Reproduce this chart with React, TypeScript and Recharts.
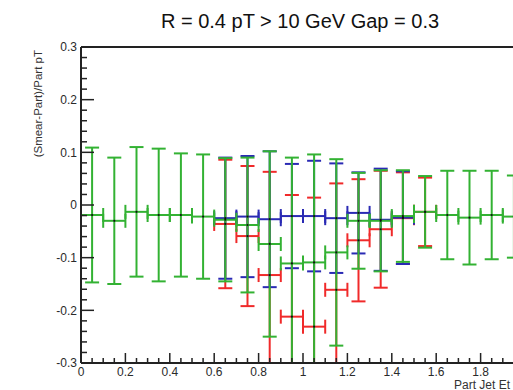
import React from 'react';
import { ScatterChart, Scatter, XAxis, YAxis, ErrorBar, ReferenceLine } from 'recharts';

// ---- data ----
const GREEN_X = [0.05, 0.15, 0.25, 0.35, 0.45, 0.55, 0.65, 0.75, 0.85, 0.95, 1.05, 1.15, 1.25, 1.35, 1.45, 1.55, 1.65, 1.75, 1.85, 1.95];
const GREEN_Y = [-0.019, -0.030, -0.013, -0.019, -0.019, -0.022, -0.028, -0.038, -0.074, -0.111, -0.109, -0.090, -0.030, -0.030, -0.021, -0.013, -0.019, -0.024, -0.019, -0.022];
const GREEN_ERR = [0.128, 0.120, 0.123, 0.126, 0.117, 0.118, 0.117, 0.128, 0.176, 0.201, 0.205, 0.177, 0.091, 0.096, 0.087, 0.068, 0.084, 0.089, 0.084, 0.078];

const BLUE_X = [0.65, 0.75, 0.85, 0.95, 1.05, 1.15, 1.25, 1.35, 1.45];
const BLUE_Y = [-0.025, -0.022, -0.027, -0.021, -0.021, -0.025, -0.015, -0.028, -0.024];
const BLUE_ERR = [0.115, 0.115, 0.129, 0.099, 0.105, 0.104, 0.077, 0.097, 0.088];

const RED_X = [0.65, 0.75, 0.85, 0.95, 1.05, 1.15, 1.25, 1.35, 1.45, 1.55];
const RED_Y = [-0.036, -0.059, -0.133, -0.212, -0.231, -0.161, -0.067, -0.046, -0.025, -0.013];
const RED_ERR = [0.122, 0.133, 0.196, 0.231, 0.245, 0.202, 0.116, 0.111, 0.087, 0.065];

const BIN_HALF_WIDTH = 0.05;

const Y_MAJOR_TICKS = [-0.3, -0.2, -0.1, 0, 0.1, 0.2, 0.3];
const Y_TICK_LABELS = ['-0.3', '-0.2', '-0.1', '0', '0.1', '0.2', '0.3'];
const X_MAJOR_TICKS = [0, 0.2, 0.4, 0.6, 0.8, 1.0, 1.2, 1.4, 1.6, 1.8];
const X_TICK_LABELS = ['0', '0.2', '0.4', '0.6', '0.8', '1', '1.2', '1.4', '1.6', '1.8'];

const TITLE = 'R = 0.4 pT > 10 GeV Gap = 0.3';
const Y_TITLE = '(Smear-Part)/Part pT';
const X_TITLE = 'Part Jet Et';

// ---- styles ----
const RED = '#f02a2a';
const BLUE = '#2a2ab4';
const GREEN = '#33b233';
const AXIS = '#222';
const FONT = '"Liberation Sans", Arial, Helvetica, sans-serif';
const TICK_MARGIN = 4;
const CHART_W = 560;
const CHART_H = 390;
const MARGIN = { top: 47, right: 35, bottom: 0, left: 0 };
const Y_AXIS_W = 81;
const X_AXIS_H = 27;

const build = (xs: number[], ys: number[], errs: number[]) =>
  xs.map((x, i) => ({ x, y: ys[i], ex: BIN_HALF_WIDTH, ey: errs[i] }));

const greenData = build(GREEN_X, GREEN_Y, GREEN_ERR);
const blueData = build(BLUE_X, BLUE_Y, BLUE_ERR);
const redData = build(RED_X, RED_Y, RED_ERR);

const r2 = (v: number) => Math.round(v * 1000) / 1000;
const yTicks: number[] = [];
for (let i = 0; i <= 30; i++) yTicks.push(r2(-0.3 + i * 0.02));
const xTicks: number[] = [];
for (let i = 0; i <= 39; i++) xTicks.push(r2(i * 0.05));

const labelFor = (v: number, majors: number[], labels: string[]) => {
  const idx = majors.findIndex((m) => Math.abs(m - v) < 1e-6);
  return idx >= 0 ? labels[idx] : null;
};

const YTick = (props: any) => {
  const { x, y, payload } = props;
  const axisX = x + TICK_MARGIN;
  const label = labelFor(payload.value, Y_MAJOR_TICKS, Y_TICK_LABELS);
  const len = label !== null ? 13 : 6;
  return (
    <g>
      <line x1={axisX} x2={axisX + len} y1={y} y2={y} stroke={AXIS} strokeWidth={1.5} />
      {label !== null && (
        <text x={axisX - 4} y={y + 4.3} textAnchor="end" fontSize={12} fontFamily={FONT} fill="#2a2a2a">
          {label}
        </text>
      )}
    </g>
  );
};

const XTick = (props: any) => {
  const { x, y, payload } = props;
  const axisY = y - TICK_MARGIN;
  const label = labelFor(payload.value, X_MAJOR_TICKS, X_TICK_LABELS);
  const len = label !== null ? 10 : 5;
  return (
    <g>
      <line x1={x} x2={x} y1={axisY} y2={axisY - len} stroke={AXIS} strokeWidth={1.5} />
      {label !== null && (
        <text x={x} y={axisY + 13} textAnchor="middle" fontSize={12} fontFamily={FONT} fill="#2a2a2a">
          {label}
        </text>
      )}
    </g>
  );
};

const Dot = (p: any) => <circle cx={p.cx} cy={p.cy} r={1.1} fill="#111" />;

const series = [
  { name: 'red', data: redData, color: RED },
  { name: 'blue', data: blueData, color: BLUE },
  { name: 'green', data: greenData, color: GREEN },
];

// plot region (layout only) used for clipping the error bars
const PLOT_X = MARGIN.left + Y_AXIS_W;
const PLOT_Y = MARGIN.top;
const PLOT_W = CHART_W - MARGIN.left - MARGIN.right - Y_AXIS_W;
const PLOT_H = CHART_H - MARGIN.top - MARGIN.bottom - X_AXIS_H;

export default function App() {
  return (
    <div style={{ position: 'absolute', left: 0, top: 0, width: 513, height: 390, overflow: 'hidden', background: '#fff' }}>
      <style>{`.recharts-errorBar, .recharts-errorBars { clip-path: url(#plotClipArea); }`}</style>
      <svg width={0} height={0} style={{ position: 'absolute' }}>
        <defs>
          <clipPath id="plotClipArea" clipPathUnits="userSpaceOnUse">
            <rect x={PLOT_X} y={PLOT_Y} width={PLOT_W} height={PLOT_H} />
          </clipPath>
        </defs>
      </svg>
      <ScatterChart width={CHART_W} height={CHART_H} margin={MARGIN}>
        <XAxis
          type="number"
          dataKey="x"
          domain={[0, 2]}
          allowDataOverflow
          ticks={xTicks}
          interval={0}
          tick={XTick}
          tickLine={false}
          tickSize={0}
          tickMargin={TICK_MARGIN}
          height={X_AXIS_H}
          axisLine={{ stroke: AXIS, strokeWidth: 2 }}
        />
        <YAxis
          type="number"
          dataKey="y"
          domain={[-0.3, 0.3]}
          allowDataOverflow
          ticks={yTicks}
          interval={0}
          tick={YTick}
          tickLine={false}
          tickSize={0}
          tickMargin={TICK_MARGIN}
          width={Y_AXIS_W}
          axisLine={{ stroke: AXIS, strokeWidth: 2 }}
        />
        <ReferenceLine y={0.3} stroke={AXIS} strokeWidth={2} />
        {series.map((s) => (
          <Scatter key={s.name} name={s.name} data={s.data} isAnimationActive={false} shape={Dot}>
            <ErrorBar dataKey="ey" direction="y" width={7} stroke={s.color} strokeWidth={2} isAnimationActive={false} />
            <ErrorBar dataKey="ex" direction="x" width={7} stroke={s.color} strokeWidth={2} isAnimationActive={false} />
          </Scatter>
        ))}
      </ScatterChart>
      <svg width={513} height={390} style={{ position: 'absolute', left: 0, top: 0, pointerEvents: 'none' }}>
        <text x={300} y={28} textAnchor="middle" fontSize={20} fontFamily={FONT} fill="#111">
          {TITLE}
        </text>
        <text transform="translate(42,50) rotate(-90)" textAnchor="end" fontSize={11.5} fontFamily={FONT} fill="#333">
          {Y_TITLE}
        </text>
        <text x={454} y={389} textAnchor="start" fontSize={12} fontFamily={FONT} fill="#333">
          {X_TITLE}
        </text>
      </svg>
    </div>
  );
}
